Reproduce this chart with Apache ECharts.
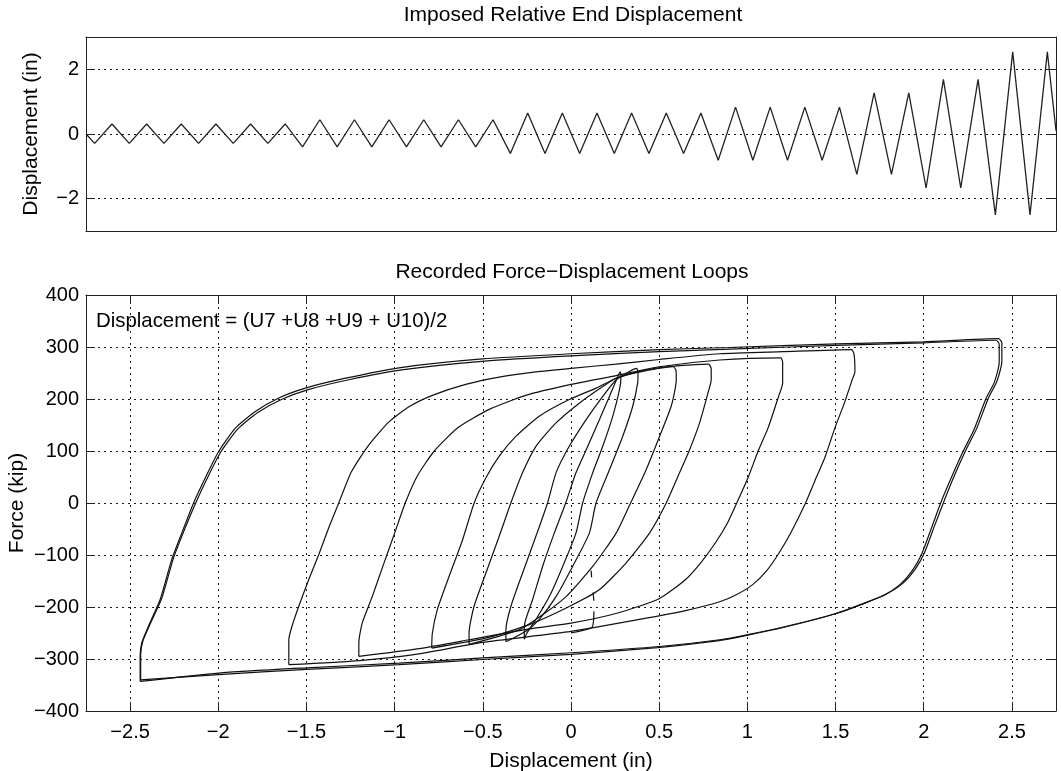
<!DOCTYPE html>
<html>
<head>
<meta charset="utf-8">
<script src="https://cdn.jsdelivr.net/npm/echarts@6/dist/echarts.min.js"></script>
<style>
html,body{margin:0;padding:0;background:#fff;}
#c{width:1061px;height:771px;}
</style>
</head>
<body>
<div id="c"></div>
<script>
// ---------- DATA ----------
// Imposed displacement history: start value, then alternating trough/peak (one per half cycle), then end value
const imposedStart = 0;
const imposedPeaks = [
  -0.29, 0.31, -0.29, 0.31, -0.29, 0.31, -0.29, 0.31, -0.29, 0.31, -0.29, 0.31,
  -0.40, 0.44, -0.40, 0.44, -0.40, 0.44, -0.40, 0.44, -0.40, 0.44, -0.40, 0.44,
  -0.60, 0.65, -0.60, 0.65, -0.60, 0.65, -0.60, 0.65, -0.60, 0.65, -0.60, 0.65,
  -0.81, 0.83, -0.81, 0.83, -0.81, 0.83, -0.81, 0.83,
  -1.25, 1.27, -1.25, 1.27,
  -1.67, 1.69, -1.67, 1.69,
  -2.50, 2.54, -2.50, 2.54
];
const imposedEnd = 0.1;
const imposedTopTicks = [-2, 0, 2];

const loopXTicks = [-2.5, -2, -1.5, -1, -0.5, 0, 0.5, 1, 1.5, 2, 2.5];

// Force-displacement loops: [displacement (in), force (kip)]
const loop24a = [[-2.443,-343],[-2.443,-295],[-2.434,-269],[-2.396,-237],[-2.33,-186],[-2.264,-109],[-2.207,-58],[-2.14,0],[-2.074,48],[-1.998,99],[-1.903,144],[-1.79,176],[-1.657,202],[-1.506,221],[-1.278,240],[-0.976,260],[-0.502,277],[0,287],[0.502,295],[0.9,299],[1.506,306],[1.998,310],[2.424,316],[2.443,308],[2.443,272],[2.415,234],[2.367,202],[2.301,144],[2.235,99],[2.168,48],[2.111,0],[2.06,-45],[2.005,-95],[1.95,-128],[1.88,-155],[1.79,-175],[1.676,-191],[1.506,-212],[1.222,-237],[1.003,-253],[0.843,-263],[0.5,-276],[0,-288],[-0.5,-298],[-0.976,-308],[-1.5,-317],[-1.998,-327],[-2.443,-343]];
const loop24b = [[-2.44,-340],[-2.44,-292],[-2.428,-266],[-2.388,-234],[-2.32,-183],[-2.254,-106],[-2.196,-55],[-2.128,0],[-2.062,48],[-1.986,98],[-1.89,142],[-1.776,174],[-1.642,199],[-1.49,218],[-1.26,237],[-0.96,256],[-0.49,273],[0,283],[0.5,291],[0.9,296],[1.5,303],[2.0,308],[2.41,313],[2.428,305],[2.428,270],[2.4,232],[2.352,200],[2.286,142],[2.22,97],[2.153,46],[2.096,0],[2.045,-47],[1.99,-97],[1.935,-130],[1.865,-157],[1.776,-177],[1.662,-193],[1.49,-214],[1.21,-239],[0.99,-255],[0.83,-265],[0.49,-278],[0,-291],[-0.5,-301],[-0.976,-311],[-1.5,-320],[-2.0,-330],[-2.44,-340]];
const loop16 = [[-1.6,-311],[-1.6,-263],[-1.582,-237],[-1.544,-199],[-1.487,-147],[-1.43,-99],[-1.373,-47],[-1.317,0],[-1.245,60],[-1.15,110],[-1.035,155],[-0.919,185],[-0.786,207],[-0.597,228],[-0.407,242],[-0.2,252],[0,259],[0.256,267],[0.5,276],[0.843,287],[1.2,291],[1.59,295],[1.605,286],[1.61,253],[1.591,234],[1.553,195],[1.496,144],[1.439,87],[1.382,42],[1.33,0],[1.245,-58],[1.174,-99],[1.11,-130],[1.03,-157],[0.94,-176],[0.843,-190],[0.65,-207],[0.5,-217],[0,-247],[-0.502,-268],[-0.862,-290],[-1.2,-303],[-1.6,-311]];
const loop12 = [[-1.203,-295],[-1.203,-269],[-1.184,-231],[-1.127,-180],[-1.065,-120],[-1.0,-58],[-0.94,0],[-0.87,53],[-0.775,100],[-0.64,145],[-0.464,180],[-0.256,207],[0,228],[0.256,245],[0.5,262],[0.843,275],[1.19,279],[1.2,270],[1.2,231],[1.174,202],[1.117,144],[1.06,99],[1.003,48],[0.94,0],[0.885,-40],[0.82,-76],[0.74,-113],[0.65,-147],[0.5,-184],[0.26,-212],[0,-231],[-0.237,-242],[-0.578,-263],[-0.862,-280],[-1.203,-295]];
const loop08 = [[-0.79,-279],[-0.786,-250],[-0.758,-205],[-0.691,-141],[-0.616,-72],[-0.549,0],[-0.483,48],[-0.407,90],[-0.313,128],[-0.18,167],[-0.01,199],[0.142,221],[0.256,240],[0.426,256],[0.616,264],[0.78,267],[0.795,258],[0.795,237],[0.776,211],[0.729,154],[0.672,102],[0.606,51],[0.54,0],[0.445,-58],[0.313,-115],[0.16,-167],[-0.01,-199],[-0.237,-234],[-0.483,-260],[-0.79,-279]];
const loop06 = [[-0.578,-272],[-0.578,-250],[-0.55,-199],[-0.483,-135],[-0.407,-64],[-0.341,0],[-0.275,58],[-0.199,109],[-0.085,154],[0.047,192],[0.18,224],[0.256,240],[0.407,253],[0.58,262],[0.595,255],[0.597,237],[0.568,186],[0.502,128],[0.426,64],[0.338,0],[0.256,-58],[0.123,-122],[-0.028,-180],[-0.161,-215],[-0.294,-244],[-0.578,-272]];
const loop04 = [[-0.369,-267],[-0.369,-244],[-0.341,-199],[-0.275,-135],[-0.199,-64],[-0.133,0],[-0.085,58],[-0.01,109],[0.085,160],[0.18,205],[0.256,237],[0.331,253],[0.372,259],[0.38,250],[0.378,231],[0.35,186],[0.293,128],[0.218,64],[0.142,0],[0.104,-58],[0.009,-122],[-0.085,-180],[-0.18,-224],[-0.25,-245],[-0.369,-267]];
const loop03 = [[-0.265,-262],[-0.262,-231],[-0.218,-186],[-0.161,-122],[-0.095,-58],[-0.03,0],[0.028,58],[0.095,109],[0.161,160],[0.218,205],[0.265,243],[0.28,252],[0.283,240],[0.275,218],[0.237,167],[0.18,109],[0.123,58],[0.066,0],[0.028,-58],[-0.047,-122],[-0.123,-180],[-0.199,-224],[-0.25,-250],[-0.265,-262]];
const glitchA = [[0.114,-130],[0.117,-143]];
const glitchB = [[0.125,-172],[0.13,-188]];
const glitchC = [[0.13,-208],[0.128,-226],[0.118,-240],[0.0,-250]];

// ---------- CHART ----------
const FONT = 'Liberation Sans, Arial, Helvetica, sans-serif';
const FS = 21;
const FT = 20;
const minus = v => String(v).replace('-', '\u2212');

const imposedData = [[0, imposedStart]];
imposedPeaks.forEach((v, i) => imposedData.push([i + 0.5, v]));
imposedData.push([imposedPeaks.length, imposedEnd]);

const gridLine = { show: true, lineStyle: { color: '#000', width: 1, type: [2, 4], opacity: 0.9 } };
const axLine = { show: true, onZero: false, lineStyle: { color: '#222', width: 1 } };
const tickIn = (vals) => ({ show: true, inside: true, length: 9, customValues: vals, lineStyle: { color: '#222', width: 1 } });

const chart = echarts.init(document.getElementById('c'), null, { renderer: 'canvas' });
const loopStyle = { color: '#111', width: 1.2 };
const loops = [loop24a, loop24b, loop16, loop12, loop08, loop06, loop04, loop03, glitchA, glitchB, glitchC];

chart.setOption({
  animation: false,
  backgroundColor: '#fff',
  textStyle: { fontFamily: FONT, color: '#000' },
  title: [
    { text: 'Imposed Relative End Displacement', left: 568, top: 0, textAlign: 'center',
      textStyle: { fontFamily: FONT, fontSize: FS, fontWeight: 'normal', color: '#000' } },
    { text: 'Recorded Force\u2212Displacement Loops', left: 567, top: 257, textAlign: 'center',
      textStyle: { fontFamily: FONT, fontSize: FS, fontWeight: 'normal', color: '#000' } }
  ],
  graphic: [
    { type: 'text', left: 96, top: 311, z: 100,
      style: { text: 'Displacement = (U7 +U8 +U9 + U10)/2', font: '20.4px ' + FONT, fill: '#000' } }
  ],
  grid: [
    { left: 86, top: 37, width: 970, height: 194, containLabel: false, outerBoundsMode: 'none' },
    { left: 86, top: 295, width: 970, height: 416, containLabel: false, outerBoundsMode: 'none' }
  ],
  xAxis: [
    { gridIndex: 0, type: 'value', min: 0, max: imposedPeaks.length, axisLine: axLine,
      axisTick: { show: false }, axisLabel: { show: false }, splitLine: { show: false } },
    { gridIndex: 0, type: 'value', position: 'top', min: 0, max: imposedPeaks.length, axisLine: axLine,
      axisTick: { show: false }, axisLabel: { show: false }, splitLine: { show: false } },
    { gridIndex: 1, type: 'value', min: -2.75, max: 2.75, axisLine: axLine,
      axisTick: tickIn(loopXTicks),
      axisLabel: { customValues: loopXTicks, formatter: minus, fontFamily: FONT, fontSize: FT, color: '#000', margin: 11 },
      splitLine: gridLine,
      name: 'Displacement (in)', nameLocation: 'middle', nameGap: 40,
      nameTextStyle: { fontFamily: FONT, fontSize: FS, color: '#000' } },
    { gridIndex: 1, type: 'value', position: 'top', min: -2.75, max: 2.75, axisLine: axLine,
      axisTick: tickIn(loopXTicks), axisLabel: { show: false }, splitLine: { show: false } }
  ],
  yAxis: [
    { gridIndex: 0, type: 'value', min: -3, max: 3, axisLine: axLine,
      axisTick: tickIn(imposedTopTicks),
      axisLabel: { customValues: imposedTopTicks, formatter: minus, fontFamily: FONT, fontSize: FT, color: '#000', margin: 7 },
      splitLine: gridLine,
      name: 'Displacement (in)', nameLocation: 'middle', nameGap: 44, nameRotate: 90,
      nameTextStyle: { fontFamily: FONT, fontSize: FS, color: '#000' } },
    { gridIndex: 0, type: 'value', position: 'right', min: -3, max: 3, axisLine: axLine,
      axisTick: tickIn(imposedTopTicks), axisLabel: { show: false }, splitLine: { show: false } },
    { gridIndex: 1, type: 'value', min: -400, max: 400, interval: 100, axisLine: axLine,
      axisTick: { show: true, inside: true, length: 9, lineStyle: { color: '#222' } },
      axisLabel: { formatter: minus, fontFamily: FONT, fontSize: FT, color: '#000', margin: 7, showMinLabel: true, showMaxLabel: true },
      splitLine: gridLine,
      name: 'Force (kip)', nameLocation: 'middle', nameGap: 58, nameRotate: 90, nameMoveOverlap: false,
      nameTextStyle: { fontFamily: FONT, fontSize: FS, color: '#000' } },
    { gridIndex: 1, type: 'value', position: 'right', min: -400, max: 400, interval: 100, axisLine: axLine,
      axisTick: { show: true, inside: true, length: 9, lineStyle: { color: '#222' } },
      axisLabel: { show: false }, splitLine: { show: false } }
  ],
  series: [
    { type: 'line', xAxisIndex: 0, yAxisIndex: 0, data: imposedData, showSymbol: false, clip: true,
      lineStyle: { color: '#222', width: 1.3 } }
  ].concat(loops.map(d => ({
    type: 'line', xAxisIndex: 2, yAxisIndex: 2, data: d, showSymbol: false, clip: true,
    smooth: 0.2, lineStyle: loopStyle
  })))
});
</script>
</body>
</html>
